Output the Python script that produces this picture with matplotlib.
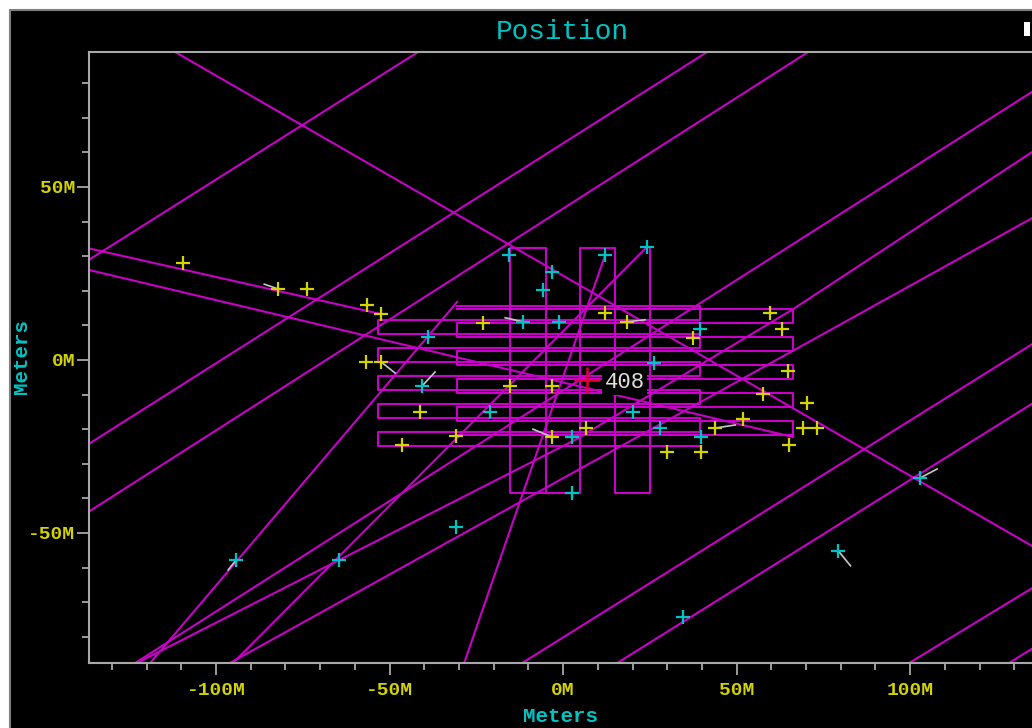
import matplotlib
matplotlib.use("Agg")
import matplotlib.pyplot as plt
from matplotlib.patches import Rectangle
from matplotlib.ticker import MultipleLocator, FixedLocator, FuncFormatter

MAGENTA = "#c800c8"
YELLOW = "#d4d400"
CYAN = "#00c4c4"
GRAY = "#a8a8a8"
FONT = ["Liberation Mono", "DejaVu Sans Mono"]

# long straight tracks, metres: list of (x, y) vertices
tracks = [
    [(-111.8, 89.0), (140.0, -56.6)],
    [(-140.0, 26.8), (-41.8, 89.0)],
    [(-140.0, -26.4), (41.5, 89.0)],
    [(-140.0, -46.0), (70.6, 89.0)],
    [(140.0, 80.6), (-123.3, -87.6)],
    [(140.0, 63.3), (66.3, 14.7), (3.5, -23.1), (-122.8, -87.6)],
    [(-96.0, -87.6), (140.0, 43.7)],
    [(-11.8, -87.6), (140.0, 7.6)],
    [(15.6, -87.6), (140.0, -9.6)],
    [(99.7, -87.6), (140.0, -63.0)],
    [(128.5, -87.6), (140.0, -80.4)],
    [(-140.0, 33.0), (-52.7, 13.3)],
    [(-140.0, 26.8), (66.3, -22.3)],
    [(-30.5, 16.8), (-119.0, -87.6)],
    [(24.2, 32.7), (-95.1, -87.6)],
    [(12.1, 30.3), (-28.5, -87.6)],
]

# horizontal lawnmower sweeps
sweep_a_left, sweep_a_right, sweep_a_start = -53.3, 39.5, -30.5
sweep_a_legs = [15.6, 11.6, 7.5, 3.5, -0.6, -4.7, -8.7, -12.8, -16.8, -20.9, -24.9]
sweep_b_left, sweep_b_right, sweep_b_start = -30.5, 66.3, -30.5
sweep_b_legs = [14.7, 10.7, 6.6, 2.6, -1.4, -5.5, -9.5, -13.6, -17.6, -21.7]

# vertical sweep
sweep_v_x = [-4.9, -15.3, -15.3, -4.9, -4.9, 4.9, 4.9, 15.0, 15.0, 25.1, 25.1]
sweep_v_y = [-38.4, -38.4, 32.4, 32.4, -38.4, -38.4, 32.4, 32.4, -38.4, -38.4, 32.4]

yellow_x = [-109.5, -82.1, -73.8, -56.5, -52.4, -56.8, -52.4, -41.2, -46.4, -23.1,
            -30.8, -15.3, -3.2, -3.2, 6.6, 12.1, 18.4, 37.5, 59.7, 63.1,
            64.8, 57.6, 70.3, 51.9, 43.8, 69.2, 73.2, 65.1, 30.0, 39.8]
yellow_y = [28.0, 20.5, 20.5, 15.9, 13.3, -0.6, -0.6, -15.0, -24.6, 10.7,
            -22.0, -7.5, -7.5, -22.3, -19.7, 13.6, 11.0, 6.4, 13.6, 9.0,
            -3.2, -9.8, -12.4, -17.1, -19.7, -19.7, -19.7, -24.6, -26.6, -26.6]

cyan_x = [-15.6, -3.2, -5.8, -11.5, -1.2, -38.9, -40.6, -21.0, 2.6, 2.6,
          12.1, 24.2, 39.5, 26.2, 20.2, 28.0, 39.8, -94.2, -64.6, -30.8,
          102.9, 79.3, 34.6, 20.2]
cyan_y = [30.3, 25.4, 20.2, 11.0, 11.0, 6.6, -7.5, -15.0, -22.3, -38.4,
          30.3, 32.7, 9.0, -0.9, -15.0, -19.7, -22.3, -57.8, -57.8, -48.3,
          -34.1, -55.2, -74.3, -7.8]

# short velocity whiskers: origin and offset
vel_x = [-82.1, -52.4, -40.6, -11.5, -3.2, 18.4, 43.8, 102.9, 79.3, -94.2]
vel_y = [20.5, -0.6, -7.5, 11.0, -22.3, 11.0, -19.7, -34.1, -55.2, -57.8]
vel_dx = [-4.0, 4.0, 3.7, -5.2, -5.5, 5.2, 5.8, 4.9, 3.5, -2.3]
vel_dy = [1.4, -3.2, 4.0, 1.2, 2.3, 0.6, 0.9, 2.6, -4.3, -2.9]

target_x, target_y, target_label = 6.9, -5.8, "408"


def sweep_path(left, right, start, legs):
    xs, ys = [start], [legs[0]]
    for i, y in enumerate(legs):
        end = right if i % 2 == 0 else left
        if i > 0:
            xs.append(xs[-1])
            ys.append(y)
        xs.append(end)
        ys.append(y)
    return xs, ys


fig = plt.figure(figsize=(10.32, 7.28), dpi=100)
fig.patch.set_facecolor("white")
fig.patches.append(Rectangle((10 / 1032, -0.01), 1.0, 1 - 10 / 728 + 0.01,
                             transform=fig.transFigure, facecolor="black",
                             edgecolor="#808080", linewidth=1.5, zorder=-5))
fig.patches.append(Rectangle((1024 / 1032, 1 - 36 / 728), 6 / 1032, 14 / 728,
                             transform=fig.transFigure, facecolor="white",
                             edgecolor="none", zorder=-4))

ax = fig.add_axes([89 / 1032, 65 / 728, 960 / 1032, 611 / 728])
ax.set_zorder(3)
ax.set_facecolor("black")
ax.set_xlim(-136.6, 140.0)
ax.set_ylim(-87.6, 89.0)

for pts in tracks:
    ax.plot([p[0] for p in pts], [p[1] for p in pts], color=MAGENTA, lw=1.5, zorder=2)

for left, right, start, legs in [(sweep_a_left, sweep_a_right, sweep_a_start, sweep_a_legs),
                                 (sweep_b_left, sweep_b_right, sweep_b_start, sweep_b_legs)]:
    xs, ys = sweep_path(left, right, start, legs)
    ax.plot(xs, ys, color=MAGENTA, lw=1.5, zorder=2)
ax.plot(sweep_v_x, sweep_v_y, color=MAGENTA, lw=1.5, zorder=2)

for x, y, dx, dy in zip(vel_x, vel_y, vel_dx, vel_dy):
    ax.plot([x, x + dx], [y, y + dy], color="#c8c8c8", lw=1.2, zorder=3)

ax.plot(yellow_x, yellow_y, "+", color=YELLOW, ms=10, mew=1.6, zorder=4)
ax.plot(cyan_x, cyan_y, "+", color=CYAN, ms=10, mew=1.6, zorder=4)

ax.plot(target_x, target_y, "+", color="#e00030", ms=19, mew=1.8, zorder=5)
ax.text(target_x + 5.0, target_y - 0.6, target_label, color="#e0e0e0", fontsize=16,
        family=FONT, va="center", ha="left", zorder=6,
        bbox=dict(facecolor="black", edgecolor="none", pad=1.5))

for side in ["left", "top", "bottom", "right"]:
    ax.spines[side].set_color(GRAY)
    ax.spines[side].set_linewidth(1.5)

ax.xaxis.set_major_locator(FixedLocator([-100, -50, 0, 50, 100]))
ax.xaxis.set_minor_locator(MultipleLocator(10))
ax.yaxis.set_major_locator(FixedLocator([-50, 0, 50]))
ax.yaxis.set_minor_locator(MultipleLocator(10))
fmt = FuncFormatter(lambda v, p: f"{v:.0f}M")
ax.xaxis.set_major_formatter(fmt)
ax.yaxis.set_major_formatter(fmt)
ax.tick_params(which="both", direction="out", color=GRAY, width=1.3)
ax.tick_params(which="major", length=8.5, labelsize=14, labelcolor=YELLOW)
ax.tick_params(which="minor", length=5)
ax.tick_params(axis="x", which="major", pad=5)
ax.tick_params(axis="y", which="major", pad=1.5)
for lab in ax.get_xticklabels() + ax.get_yticklabels():
    lab.set_family(FONT)
    lab.set_fontweight("bold")

ax.set_xlabel("Meters", color=CYAN, fontsize=15, family=FONT, fontweight="bold")
ax.set_ylabel("Meters", color=CYAN, fontsize=15, family=FONT, fontweight="bold")
ax.xaxis.set_label_coords((560 - 89) / 960, -(707 - 663) / 611)
ax.yaxis.set_label_coords(-(89 - 31) / 960, (663 - 357) / 611)
fig.text(562 / 1032, 1 - 32 / 728, "Position", color=CYAN, fontsize=20, family=FONT,
         ha="center", va="center")

fig.savefig("out.png", dpi=100, facecolor=fig.get_facecolor())
